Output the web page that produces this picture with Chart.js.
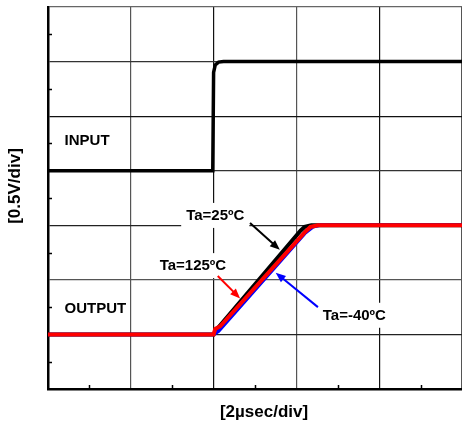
<!DOCTYPE html>
<html>
<head>
<meta charset="utf-8">
<script src="https://cdn.jsdelivr.net/npm/chart.js@4/dist/chart.umd.min.js"></script>
<style>
  html, body { margin: 0; padding: 0; background: #fff; }
</style>
</head>
<body>
<canvas id="scope" width="462" height="429"></canvas>
<script>
// time in divisions (2usec/div), voltage in divisions (0.5V/div)
const inputTime  = [0, 1.99, 2.0, 2.02, 2.06, 2.12, 5];
const inputLevel = [4, 4, 5.8, 5.94, 5.99, 6, 6];

const out25Time  = [0, 2.0, 2.03, 3.05, 3.1, 3.18, 5];
const out25Level = [1, 1, 1.08, 2.9, 2.97, 3, 3];

const outM40Time  = [0, 2.0, 2.06, 3.1, 3.2, 3.28, 5];
const outM40Level = [1, 1, 1.06, 2.85, 2.97, 3, 3];

const out125Time  = [0, 2.0, 2.02, 2.08, 3.1, 3.17, 3.26, 5];
const out125Level = [1, 1, 1.1, 1.15, 2.87, 2.97, 3, 3];

// text labels: [text, x, y, align, white box]
const labels = [
    ['INPUT', 0.2, 4.56, 'left', false],
    ['OUTPUT', 0.2, 1.48, 'left', false],
    ['Ta=25ºC', 2.02, 3.19, 'center', true],
    ['Ta=125ºC', 1.75, 2.27, 'center', true],
    ['Ta=-40ºC', 3.7, 1.36, 'center', true]
];

// arrows: [x0, y0, x1, y1, colour]
const arrows = [
    [2.44, 3.04, 2.80, 2.55, '#000'],
    [2.05, 2.07, 2.32, 1.66, '#ff0000'],
    [3.26, 1.50, 2.75, 2.13, '#0000ff']
];

function toPoints(xs, ys) {
    return xs.map((x, i) => ({ x: x, y: ys[i] }));
}

// lower "order" is drawn on top
function lineSet(label, xs, ys, colour, width, order) {
    return {
        label: label,
        data: toPoints(xs, ys),
        borderColor: colour,
        borderWidth: width,
        pointRadius: 0,
        tension: 0,
        fill: false,
        order: order
    };
}

const FONT = 'bold 15px "Liberation Sans", Arial, sans-serif';

// minor ticks, labels, arrows and axis titles
const scopeExtras = {
    id: 'scopeExtras',
    afterDatasetsDraw(chart) {
        const ctx = chart.ctx;
        const xs = chart.scales.x;
        const ys = chart.scales.y;
        const area = chart.chartArea;

        // inward minor ticks
        ctx.save();
        ctx.strokeStyle = '#000';
        ctx.lineWidth = 1.5;
        for (let v = 0.5; v < 7; v++) {
            const py = Math.round(ys.getPixelForValue(v)) + 0.5;
            ctx.beginPath();
            ctx.moveTo(area.left, py);
            ctx.lineTo(area.left + 4, py);
            ctx.stroke();
        }
        for (let v = 0.5; v < 5; v++) {
            const px = Math.round(xs.getPixelForValue(v)) + 0.5;
            ctx.beginPath();
            ctx.moveTo(px, area.bottom);
            ctx.lineTo(px, area.bottom - 4);
            ctx.stroke();
        }

        // labels
        ctx.font = FONT;
        ctx.textBaseline = 'middle';
        labels.forEach(([text, x, y, align, box]) => {
            const px = xs.getPixelForValue(x);
            const py = ys.getPixelForValue(y);
            const w = ctx.measureText(text).width;
            const left = align === 'center' ? px - w / 2 : px;
            if (box) {
                ctx.fillStyle = '#fff';
                ctx.fillRect(left - 5, py - 12, w + 10, 25);
            }
            ctx.fillStyle = '#000';
            ctx.textAlign = 'left';
            ctx.fillText(text, left, py + 1);
        });

        // arrows
        arrows.forEach(([x0, y0, x1, y1, colour]) => {
            const ax = xs.getPixelForValue(x0), ay = ys.getPixelForValue(y0);
            const bx = xs.getPixelForValue(x1), by = ys.getPixelForValue(y1);
            const ang = Math.atan2(by - ay, bx - ax);
            ctx.strokeStyle = colour;
            ctx.fillStyle = colour;
            ctx.lineWidth = 2;
            ctx.beginPath();
            ctx.moveTo(ax, ay);
            ctx.lineTo(bx - 6 * Math.cos(ang), by - 6 * Math.sin(ang));
            ctx.stroke();
            ctx.beginPath();
            ctx.moveTo(bx, by);
            ctx.lineTo(bx - 10 * Math.cos(ang) + 4 * Math.sin(ang), by - 10 * Math.sin(ang) - 4 * Math.cos(ang));
            ctx.lineTo(bx - 10 * Math.cos(ang) - 4 * Math.sin(ang), by - 10 * Math.sin(ang) + 4 * Math.cos(ang));
            ctx.closePath();
            ctx.fill();
        });

        // axis titles
        ctx.fillStyle = '#000';
        ctx.font = 'bold 17px "Liberation Sans", Arial, sans-serif';
        ctx.textAlign = 'center';
        ctx.fillText('[2µsec/div]', 264, 412);
        ctx.translate(15, 186);
        ctx.rotate(-Math.PI / 2);
        ctx.fillText('[0.5V/div]', 0, 0);
        ctx.restore();
    }
};

const gridColourX = { 0: '#000', 1: '#555', 2: '#111', 3: '#555', 4: '#111', 5: '#555' };
const gridColourY = { 0: '#000', 1: '#222', 2: '#555', 3: '#222', 4: '#333', 5: '#111', 6: '#333', 7: '#666' };

new Chart(document.getElementById('scope'), {
    type: 'line',
    data: {
        datasets: [
            lineSet('Ta=125ºC', out125Time, out125Level, '#ff0000', 4, 1),
            lineSet('Ta=-40ºC', outM40Time, outM40Level, '#0000ff', 3.5, 2),
            lineSet('Ta=25ºC', out25Time, out25Level, '#000', 4, 3),
            lineSet('INPUT', inputTime, inputLevel, '#000', 3.5, 4)
        ]
    },
    options: {
        responsive: false,
        animation: false,
        layout: { padding: { top: 7, right: 0, left: 0, bottom: 0 } },
        plugins: {
            legend: { display: false },
            tooltip: { enabled: false }
        },
        scales: {
            x: {
                type: 'linear',
                min: 0,
                max: 5,
                ticks: { stepSize: 1, display: false },
                grid: {
                    drawTicks: false,
                    lineWidth: 1.2,
                    color: (c) => gridColourX[c.tick.value] || '#444'
                },
                border: { color: '#000', width: 2.5 },
                afterFit: (scale) => { scale.height = 40; }
            },
            y: {
                min: 0,
                max: 7,
                ticks: { stepSize: 1, display: false },
                grid: {
                    drawTicks: false,
                    lineWidth: 1.2,
                    color: (c) => gridColourY[c.tick.value] || '#444'
                },
                border: { color: '#000', width: 2.5 },
                afterFit: (scale) => { scale.width = 48; }
            }
        }
    },
    plugins: [scopeExtras]
});
</script>
</body>
</html>
